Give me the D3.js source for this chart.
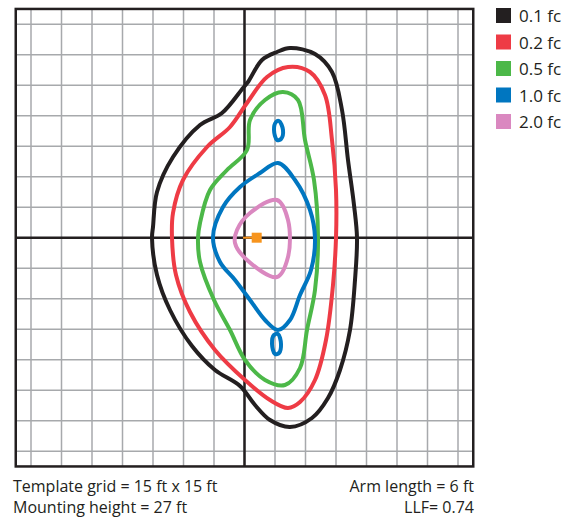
<!DOCTYPE html>
<html>
<head>
    <meta charset="utf-8">
    <title>Isofootcandle plot</title>
    <style>
        body { margin: 0; background: #fff; }
        text { font-family: "Open Sans", sans-serif; fill: #231f20; }
        path.contour { fill: none; stroke-width: 4px; stroke-linejoin: round; }
    </style>
    <script src="https://d3js.org/d3.v7.min.js"></script>
</head>
<body>
    <script>
        // contour points in pixel reading of the reference, converted below to grid cells (15 ft)
        var levels = ["0.1 fc", "0.2 fc", "0.5 fc", "1.0 fc", "2.0 fc"];
        var levelColors = ["#231f20", "#ee3b45", "#4cb848", "#0076c0", "#da88c0"];

        var c01 = [[290,48],[315,54],[332,72],[342,110],[348,160],[354,205],[357,238],[355,280],[350,330],[340,370],[328,398],[312,418],[290,427],[270,420],[255,405],[240,386],[215,370],[192,346],[170,310],[157,275],[152,238],[153,227],[157,192],[173,157],[200,125],[222,113],[243,88],[248,82],[262,60],[277,52]];
        var c02 = [[288,67],[310,72],[325,95],[332,140],[336,190],[336,238],[333,285],[326,340],[315,380],[300,402],[288,408],[270,400],[245,380],[215,350],[190,312],[176,275],[172,238],[173,213],[183,180],[207,147],[230,127],[247,103],[267,77]];
        var c05 = [[283,92],[298,100],[305,140],[314,180],[318,238],[315,290],[307,330],[300,368],[285,385],[265,380],[245,360],[230,330],[214,300],[200,262],[198,238],[200,223],[210,190],[227,170],[247,150],[250,120],[265,100]];
        var c10 = [[278,163],[295,180],[310,210],[315,238],[311,270],[300,295],[290,320],[278,330],[265,320],[250,300],[235,280],[220,262],[213,237],[223,207],[240,187],[260,173]];
        var c10top = [[279,121],[283,130],[281,139],[277,140],[274,130],[276,122]];
        var c10bot = [[278,334],[281,344],[279,353],[275,354],[272,344],[274,335]];
        var c20 = [[277,200],[288,220],[288,257],[277,277],[247,260],[235,243],[237,230],[250,213]];
        var contours = [[c01, 0], [c02, 1], [c05, 2], [c10, 3], [c10top, 3], [c10bot, 3], [c20, 4]];

        var notesLeft = ["Template grid = 15 ft x 15 ft", "Mounting height = 27 ft"];
        var notesRight = ["Arm length = 6 ft", "LLF= 0.74"];

        var W = 581, H = 519;
        var cx = 244.5, cy = 237.7, cell = 30.5;
        function toCell(p) { return [(p[0] - cx) / cell, (cy - p[1]) / cell]; }

        var x = d3.scaleLinear().domain([-7.5, 7.5]).range([cx - 7.5 * cell, cx + 7.5 * cell]);
        var y = d3.scaleLinear().domain([-7.5, 7.5]).range([cy + 7.5 * cell, cy - 7.5 * cell]);

        var svg = d3.select("body").append("svg").attr("width", W).attr("height", H);

        // grid
        var ticks = d3.range(-7, 8);
        svg.selectAll(".vg").data(ticks).enter().append("line")
            .attr("x1", d => x(d)).attr("x2", d => x(d))
            .attr("y1", y(7.5)).attr("y2", y(-7.5))
            .attr("stroke", "#a7a9ac").attr("stroke-width", 1.5);
        svg.selectAll(".hg").data(ticks).enter().append("line")
            .attr("y1", d => y(d)).attr("y2", d => y(d))
            .attr("x1", x(-7.5)).attr("x2", x(7.5))
            .attr("stroke", "#a7a9ac").attr("stroke-width", 1.5);
        svg.append("line").attr("x1", x(0)).attr("x2", x(0)).attr("y1", y(7.5)).attr("y2", y(-7.5))
            .attr("stroke", "#231f20").attr("stroke-width", 2.5);
        svg.append("line").attr("y1", y(0)).attr("y2", y(0)).attr("x1", x(-7.5)).attr("x2", x(7.5))
            .attr("stroke", "#231f20").attr("stroke-width", 2.5);
        svg.append("rect").attr("x", x(-7.5)).attr("y", y(7.5))
            .attr("width", x(7.5) - x(-7.5)).attr("height", y(-7.5) - y(7.5))
            .attr("fill", "none").attr("stroke", "#231f20").attr("stroke-width", 2.5);

        var line = d3.line()
            .x(d => x(d[0])).y(d => y(d[1]))
            .curve(d3.curveCatmullRomClosed.alpha(0.5));

        svg.selectAll(".contour").data(contours).enter().append("path")
            .attr("class", "contour")
            .attr("stroke", d => levelColors[d[1]])
            .attr("stroke-width", d => d[0].length < 8 ? 3.5 : 4)
            .attr("d", d => line(d[0].map(toCell)));

        // luminaire with arm
        svg.append("line").attr("x1", x(-0.05)).attr("x2", x(0.3)).attr("y1", y(0)).attr("y2", y(0))
            .attr("stroke", "#f7941d").attr("stroke-width", 2);
        svg.append("rect").attr("x", x(0.4) - 5).attr("y", y(0) - 5).attr("width", 10).attr("height", 10)
            .attr("fill", "#f7941d");

        // legend
        var leg = svg.append("g").selectAll("g").data(levels).enter().append("g")
            .attr("transform", (d, i) => "translate(496," + (8 + i * 26.5) + ")");
        leg.append("rect").attr("width", 15).attr("height", 15).attr("fill", (d, i) => levelColors[i]);
        leg.append("text").attr("x", 23).attr("y", 14).attr("font-size", 17).text(d => d);

        // notes
        svg.selectAll(".nl").data(notesLeft).enter().append("text")
            .attr("x", 13).attr("y", (d, i) => 492 + i * 21).attr("font-size", 16)
            .text(d => d);
        svg.selectAll(".nr").data(notesRight).enter().append("text")
            .attr("x", 474).attr("y", (d, i) => 492 + i * 21).attr("font-size", 16)
            .attr("text-anchor", "end").text(d => d);
    </script>
</body>
</html>
